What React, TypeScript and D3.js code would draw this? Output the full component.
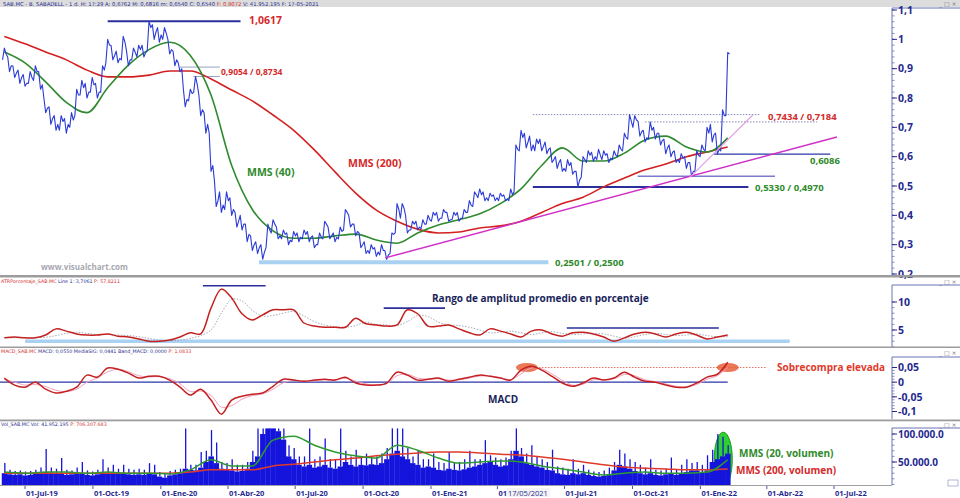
import React from 'react';
import * as d3 from 'd3';

// ---------------- DATA ----------------
const START = new Date(2019, 5, 3); // first weekly sample
const closes = [0.95,0.91,0.885,0.87,0.85,0.87,0.89,0.845,0.765,0.73,0.71,0.72,0.71,0.725,0.81,0.835,0.82,0.845,0.82,0.895,
0.98,0.945,0.935,0.99,0.93,0.955,0.965,0.955,1.04,1.025,1.015,1.02,0.965,0.93,0.9,0.795,0.815,0.845,0.76,0.71,
0.57,0.45,0.435,0.45,0.42,0.38,0.37,0.335,0.3,0.29,0.275,0.35,0.37,0.33,0.335,0.315,0.33,0.325,0.335,0.325,
0.3,0.325,0.37,0.33,0.325,0.345,0.41,0.37,0.345,0.3,0.28,0.285,0.275,0.28,0.265,0.335,0.42,0.425,0.35,0.37,
0.36,0.37,0.385,0.4,0.39,0.41,0.385,0.4,0.39,0.41,0.435,0.47,0.47,0.46,0.465,0.46,0.465,0.455,0.47,0.625,
0.665,0.65,0.64,0.645,0.635,0.625,0.59,0.58,0.56,0.57,0.55,0.52,0.59,0.605,0.6,0.605,0.605,0.595,0.605,0.625,
0.665,0.72,0.725,0.685,0.665,0.69,0.68,0.655,0.63,0.615,0.59,0.595,0.58,0.55,0.605,0.625,0.68,0.675,0.625,0.74,0.95];
const highs = [0.97,0.94,0.91,0.895,0.88,0.89,0.91,0.89,0.8,0.77,0.74,0.74,0.73,0.75,0.83,0.86,0.85,0.87,0.85,0.91,
1.0,0.98,0.96,1.01,0.96,0.97,0.98,0.98,1.0617,1.05,1.04,1.04,1.0,0.96,0.92,0.83,0.83,0.8734,0.81,0.75,
0.68,0.52,0.48,0.48,0.46,0.41,0.4,0.37,0.33,0.31,0.3,0.37,0.385,0.36,0.35,0.34,0.345,0.34,0.35,0.345,
0.33,0.34,0.38,0.36,0.34,0.36,0.42,0.4,0.37,0.34,0.31,0.3,0.29,0.3,0.28,0.34,0.44,0.44,0.4,0.38,
0.38,0.385,0.4,0.41,0.41,0.42,0.41,0.41,0.41,0.42,0.45,0.48,0.49,0.48,0.475,0.47,0.475,0.47,0.49,0.64,
0.69,0.68,0.67,0.66,0.66,0.65,0.63,0.6,0.59,0.59,0.58,0.55,0.6,0.62,0.615,0.625,0.62,0.61,0.62,0.64,
0.68,0.7434,0.74,0.72,0.69,0.7184,0.7,0.68,0.66,0.64,0.62,0.61,0.6,0.58,0.62,0.64,0.7,0.71,0.68,0.76,0.955];
const lows = [0.93,0.89,0.87,0.85,0.84,0.85,0.86,0.83,0.75,0.71,0.69,0.69,0.68,0.7,0.74,0.81,0.8,0.82,0.8,0.82,
0.92,0.93,0.92,0.93,0.91,0.93,0.94,0.94,0.96,1.0,0.99,1.0,0.95,0.91,0.89,0.77,0.79,0.82,0.74,0.68,
0.55,0.43,0.41,0.42,0.4,0.36,0.35,0.31,0.28,0.27,0.2501,0.29,0.34,0.32,0.32,0.3,0.31,0.31,0.32,0.31,
0.29,0.3,0.32,0.32,0.31,0.32,0.35,0.36,0.33,0.29,0.27,0.27,0.26,0.265,0.25,0.27,0.34,0.39,0.34,0.35,
0.35,0.355,0.37,0.38,0.38,0.39,0.38,0.385,0.38,0.39,0.41,0.43,0.46,0.45,0.45,0.45,0.45,0.45,0.45,0.48,
0.62,0.63,0.62,0.62,0.62,0.61,0.58,0.56,0.55,0.55,0.54,0.497,0.53,0.58,0.585,0.59,0.59,0.58,0.59,0.6,
0.62,0.66,0.7,0.67,0.65,0.66,0.66,0.64,0.61,0.6,0.58,0.58,0.56,0.533,0.55,0.6,0.62,0.65,0.6086,0.62,0.74];
// moving averages, one value every 4 weeks
const mms40 = [0.957,0.92,0.855,0.785,0.75,0.835,0.912,0.965,0.99,0.945,0.81,0.57,0.42,0.347,0.322,0.322,0.33,0.336,0.316,0.305,
0.34,0.367,0.385,0.405,0.44,0.49,0.57,0.63,0.585,0.585,0.612,0.657,0.67,0.633,0.616,0.664];
const mms200 = [1.01,0.985,0.957,0.93,0.895,0.872,0.872,0.878,0.892,0.892,0.865,0.827,0.79,0.742,0.69,0.623,0.548,0.476,0.418,0.38,
0.353,0.34,0.343,0.357,0.364,0.38,0.41,0.44,0.462,0.497,0.527,0.555,0.575,0.6,0.616,0.633];
// ATR % and MACD, one value every 2 weeks
const atrLine = [3.6,3.75,3.6,3.6,4.1,5.2,4.8,4.3,4.1,4.1,4.3,3.9,3.75,3.4,3.0,3.0,3.2,3.75,4.5,4.3,
8.9,12.3,10.7,7.9,6.8,7.7,8.6,8.6,8.6,6.25,5.7,5.5,5.5,5.5,7.1,6.1,5.9,5.7,5.9,8.6,
7.9,5.7,5.7,5.9,5.2,4.5,4.1,5.2,4.8,4.3,3.75,4.8,5.0,4.3,3.9,4.5,4.6,4.3,3.75,3.0,
3.6,4.3,4.6,4.3,3.75,4.3,4.6,4.1,3.4,3.75,4.1];
const atrSignal = [3.6,3.6,3.65,3.65,3.7,4.0,4.4,4.6,4.4,4.2,4.2,4.1,4.0,3.8,3.5,3.2,3.1,3.2,3.5,4.0,
5.0,8.0,10.5,10.2,8.5,7.5,7.6,8.0,8.3,7.5,6.5,5.9,5.6,5.5,5.8,6.4,6.0,5.9,5.8,6.5,
7.6,7.4,6.4,5.9,5.8,5.5,5.0,4.5,4.6,4.8,4.5,4.2,4.5,4.7,4.4,4.2,4.3,4.4,4.3,3.9,
3.5,3.8,4.2,4.4,4.2,4.0,4.1,4.3,4.0,3.8,3.8];
const macdLine = [0.014,-0.01,-0.017,0,-0.024,-0.037,-0.031,-0.017,0.024,0.017,0.048,0.044,0.031,0.014,0.02,0.02,0.007,-0.017,-0.044,-0.024,
-0.061,-0.109,-0.061,-0.048,-0.041,-0.037,-0.014,0.01,0.007,0.003,0.007,0.01,0.007,0.017,-0.003,-0.01,-0.01,-0.003,0.034,0.024,
0.007,0.01,0.014,0.003,0.01,0.017,0.024,0.02,0.014,0.007,0.041,0.054,0.041,0.02,-0.003,-0.014,-0.003,0.014,0.007,0.014,
0.034,0.017,0.003,0,-0.01,-0.017,-0.017,-0.003,0.017,0.027,0.068];
const macdSignal = [0.01,0.0,-0.01,-0.008,-0.015,-0.028,-0.032,-0.024,0.0,0.014,0.035,0.044,0.036,0.022,0.018,0.019,0.012,-0.005,-0.032,-0.03,
-0.045,-0.085,-0.08,-0.058,-0.046,-0.04,-0.024,-0.002,0.006,0.004,0.005,0.008,0.008,0.013,0.004,-0.006,-0.01,-0.005,0.022,0.027,
0.014,0.01,0.012,0.007,0.008,0.014,0.021,0.021,0.016,0.009,0.028,0.048,0.046,0.028,0.006,-0.01,-0.007,0.008,0.009,0.012,
0.026,0.022,0.008,0.002,-0.006,-0.014,-0.016,-0.008,0.01,0.022,0.05];
// weekly volume (thousands): typical level and weekly peak day
const volBase = [30000,28000,27000,28000,26000,27000,29000,30000,32000,31000,30000,30000,27000,28000,29000,30000,27000,26000,28000,31000,
30000,29000,29000,30000,28000,27000,28000,27000,30000,28000,24000,22000,26000,28000,30000,38000,36000,35000,40000,50000,
60000,48000,38000,36000,35000,33000,34000,38000,50000,60000,100000,110000,110000,105000,90000,60000,55000,45000,42000,45000,
40000,42000,45000,40000,38000,42000,50000,45000,42000,45000,44000,46000,45000,48000,55000,65000,70000,60000,55000,48000,
45000,40000,42000,40000,36000,35000,38000,36000,35000,37000,40000,42000,45000,48000,50000,45000,42000,44000,55000,70000,
60000,48000,45000,42000,40000,36000,35000,30000,28000,27000,30000,28000,30000,27000,25000,24000,25000,28000,35000,45000,
42000,38000,34000,30000,28000,30000,27000,26000,28000,30000,27000,30000,32000,35000,35000,32000,35000,50000,55000,60000,65000];
const volPeak = [48000,36000,34000,35000,33000,34000,36000,40000,73000,40000,38000,57000,36000,35000,40000,50000,35000,33000,36000,55000,
40000,45000,38000,45000,38000,36000,38000,36000,48000,45000,32000,30000,34000,36000,38000,110000,45000,45000,68000,70000,
107000,85000,50000,48000,55000,45000,45000,50000,70000,110000,110000,110000,110000,110000,110000,80000,75000,60000,60000,110000,
55000,60000,92000,55000,55000,110000,70000,60000,72000,60000,65000,60000,60000,65000,75000,110000,110000,110000,75000,60000,
70000,55000,55000,65000,50000,48000,68000,48000,50000,55000,70000,55000,55000,89000,62000,58000,55000,58000,70000,110000,
75000,65000,80000,60000,55000,50000,72000,42000,40000,38000,55000,38000,45000,36000,33000,32000,35000,40000,50000,72000,
65000,55000,50000,45000,40000,55000,36000,35000,38000,58000,36000,45000,55000,48000,50000,45000,62000,72000,100000,95000,80000];
const volMA20 = [32000,30000,32000,32000,30000,32000,30000,30000,28500,36000,54000,43000,43000,89000,96000,80000,68000,61000,57000,80000,
71000,57000,48000,50000,52000,50000,43000,37500,32000,27000,30000,32000,30000,30000,32000,54000];
const volMA200 = [30000,30000,30000,30000,30000,30000,30000,30000,30000,32000,36000,36000,36000,43000,46000,50000,54000,57000,61000,64000,
66000,68000,68000,66000,64000,62500,59000,55000,50000,45000,41000,39000,37500,36000,36000,37500];

const priceTicks = [1.1, 1, 0.9, 0.8, 0.7, 0.6, 0.5, 0.4, 0.3, 0.2];
const priceTickLabels = ['1,1', '1', '0,9', '0,8', '0,7', '0,6', '0,5', '0,4', '0,3', '0,2'];
const atrTicks = [10, 5];
const atrTickLabels = ['10', '5'];
const macdTicks = [0.05, 0, -0.05, -0.1];
const macdTickLabels = ['0,05', '0', '-0,05', '-0,1'];
const volTicks = [100000, 50000];
const volTickLabels = ['100.000.0', '50.000.0'];
const dateTicks = ['2019-07-01','2019-10-01','2020-01-01','2020-04-01','2020-07-01','2020-10-01','2021-01-01','2021-04-01','2021-07-01','2021-10-01','2022-01-01','2022-04-01','2022-07-01'];
const dateTickLabels = ['01-Jul-19','01-Oct-19','01-Ene-20','01-Abr-20','01-Jul-20','01-Oct-20','01-Ene-21','01','01-Jul-21','01-Oct-21','01-Ene-22','01-Abr-22','01-Jul-22'];
const cursorDate = '17/05/2021';

// ---------------- LAYOUT ----------------
const W = 960, H = 498, AX = 892;
const FONT = "'Open Sans', 'DejaVu Sans', sans-serif";
const NAVY = '#1f2a8f';
const RED = '#d42a2a';
const GREEN = '#2e8a2a';
const BLUE = '#2b3bd6';

const d = (s: string) => { const [y, m, dd] = s.split('-').map(Number); return new Date(y, m - 1, dd); };
const weekDate = (i: number) => d3.timeDay.offset(START, 7 * i);

const x = d3.scaleTime().domain([d('2019-07-01'), d('2022-07-01')]).range([25, 834]);
const yP = d3.scaleLinear().domain([0.2, 1.1]).range([274, 10]);
const yA = d3.scaleLinear().domain([0, 10]).range([358, 302]);
const yM = d3.scaleLinear().domain([-0.1, 0.05]).range([411.5, 367.5]);
const yV = d3.scaleLinear().domain([0, 100000]).range([490, 434]);

function RightAxis({ top, bottom, scale, ticks, labels, minor, size }: any) {
  const [lo, hi] = scale.domain();
  const minors: number[] = [];
  for (let v = lo; v <= hi + 1e-9; v += minor) minors.push(v);
  return (
    <g>
      <line x1={AX} x2={W} y1={top} y2={top} stroke="#6a74b8" strokeWidth={1} />
      <line x1={AX} x2={AX} y1={top} y2={bottom} stroke="#6a74b8" strokeWidth={1} />
      {minors.map((v, i) => {
        const yy = scale(v);
        if (yy < top || yy > bottom) return null;
        return <line key={'m' + i} x1={AX} x2={AX + 2.5} y1={yy} y2={yy} stroke="#6a74b8" strokeWidth={0.8} />;
      })}
      {ticks.map((v: number, i: number) => (
        <g key={i}>
          <line x1={AX} x2={AX + 5} y1={scale(v)} y2={scale(v)} stroke={NAVY} strokeWidth={1} />
          <text x={AX + 6} y={scale(v)} dy="0.36em" fontSize={size} fontWeight={700} fill={NAVY} fontFamily={FONT}>{labels[i]}</text>
        </g>
      ))}
    </g>
  );
}

const WinIcons = ({ y }: { y: number }) => (
  <text x={939} y={y} fontSize={6} fill="#777" fontFamily="DejaVu Sans, sans-serif">_ □ ×</text>
);

export default function App() {
  // price zigzag path from weekly high/low/close values
  const pts: [number, number][] = [];
  closes.forEach((c, i) => {
    const xx = x(weekDate(i));
    const prev = i > 0 ? closes[i - 1] : c;
    const up = c >= prev;
    const a = up ? lows[i] : highs[i];
    const b = up ? highs[i] : lows[i];
    pts.push([xx - 1.8, yP(a)], [xx, yP(b)], [xx + 1.8, yP(c)]);
  });
  const pricePath = d3.line()(pts) as string;

  const maLine = (arr: number[], step: number, ys: any) =>
    d3.line<number>().x((_, k) => x(weekDate(step * k))).y(v => ys(v)).curve(d3.curveMonotoneX)(arr) as string;
  const rawLine = (arr: number[], step: number, ys: any) =>
    d3.line<number>().x((_, k) => x(weekDate(step * k))).y(v => ys(v)).curve(d3.curveCatmullRom)(arr) as string;

  const stepW = x(weekDate(1)) - x(weekDate(0));

  const txt = (props: any, s: string) => <text fontFamily={FONT} fontWeight={700} {...props}>{s}</text>;

  return (
    <svg width={W} height={H} viewBox={`0 0 ${W} ${H}`} style={{ position: 'absolute', left: 0, top: 0, background: '#fff' }}>
      <defs>
        <clipPath id="cMain"><rect x={0} y={8} width={AX} height={267} /></clipPath>
        <clipPath id="cVol"><rect x={0} y={426} width={AX} height={59} /></clipPath>
      </defs>
      <rect x={0} y={0} width={W} height={H} fill="#fff" />

      {/* header */}
      <rect x={0} y={0} width={W} height={7} fill="#dcdcdc" />
      <text x={3} y={5.6} fontSize={5.3} fontFamily="DejaVu Sans, sans-serif" fill={NAVY}>
        SAB.MC - B. SABADELL - 1 d. H: 17:29 A: 0,6762 M: 0,6816 m: 0,6540 C: 0,6540 <tspan fill={RED}>F: 0,9072</tspan> V: 41.952.195 F: 17-05-2021
      </text>
      <WinIcons y={6} />

      {/* ---------- MAIN PANEL ---------- */}
      <g clipPath="url(#cMain)">
        <line x1={x(d('2020-05-13'))} x2={x(d('2021-06-09'))} y1={yP(0.2501) + 3} y2={yP(0.2501) + 3} stroke="#a9d2f2" strokeWidth={4} />
        <line x1={x(d('2019-10-21'))} x2={x(d('2020-04-18'))} y1={yP(1.0617)} y2={yP(1.0617)} stroke="#2a2f9a" strokeWidth={2} />
        <line x1={x(d('2020-01-27'))} x2={x(d('2020-03-21'))} y1={yP(0.9054)} y2={yP(0.9054)} stroke="#9aa0c8" strokeWidth={1} />
        <line x1={x(d('2020-02-14'))} x2={x(d('2020-03-21'))} y1={yP(0.8734)} y2={yP(0.8734)} stroke="#9aa0c8" strokeWidth={1} />
        <line x1={x(d('2021-05-19'))} x2={x(d('2022-03-07'))} y1={yP(0.497)} y2={yP(0.497)} stroke="#2a2f9a" strokeWidth={2} />
        <line x1={x(d('2021-10-08'))} x2={x(d('2022-04-12'))} y1={yP(0.533)} y2={yP(0.533)} stroke="#7a7ad0" strokeWidth={1.6} />
        <line x1={x(d('2022-01-19'))} x2={x(d('2022-06-26'))} y1={yP(0.6086)} y2={yP(0.6086)} stroke="#2a3aa8" strokeWidth={1.3} />
        <line x1={x(d('2021-05-19'))} x2={x(d('2022-03-23'))} y1={yP(0.7434)} y2={yP(0.7434)} stroke="#8088b8" strokeWidth={1} strokeDasharray="1.5,1.5" />
        <line x1={x(d('2021-10-18'))} x2={x(d('2022-06-08'))} y1={yP(0.7184)} y2={yP(0.7184)} stroke="#8088b8" strokeWidth={1} strokeDasharray="1.5,1.5" />

        <path d={maLine(mms200, 4, yP)} fill="none" stroke="#d42020" strokeWidth={1.6} />
        <path d={maLine(mms40, 4, yP)} fill="none" stroke="#2f8a2f" strokeWidth={1.6} />
        <path d={pricePath} fill="none" stroke={BLUE} strokeWidth={1.1} strokeLinejoin="round" />

        <line x1={x(d('2020-10-31'))} y1={yP(0.255)} x2={x(d('2022-07-05'))} y2={yP(0.667)} stroke="#d030c8" strokeWidth={1.5} />
        <line x1={x(d('2021-12-18'))} y1={yP(0.53)} x2={x(d('2022-03-13'))} y2={yP(0.742)} stroke="#e0a0e0" strokeWidth={1.1} />
      </g>

      {txt({ x: 249, y: 24, fontSize: 10.5, fill: RED }, '1,0617')}
      {txt({ x: 221, y: 75, fontSize: 8.5, fill: RED }, '0,9054 / 0,8734')}
      {txt({ x: 247, y: 176, fontSize: 10.5, fill: GREEN }, 'MMS (40)')}
      {txt({ x: 348, y: 167, fontSize: 10.5, fill: RED }, 'MMS (200)')}
      {txt({ x: 41, y: 270, fontSize: 8, fill: '#a8a8b0' }, 'www.visualchart.com')}
      {txt({ x: 555, y: 266, fontSize: 9.5, fill: GREEN }, '0,2501 / 0,2500')}
      {txt({ x: 755, y: 191, fontSize: 9.5, fill: GREEN }, '0,5330 / 0,4970')}
      {txt({ x: 810, y: 164, fontSize: 9.5, fill: GREEN }, '0,6086')}
      {txt({ x: 768, y: 120, fontSize: 9.5, fill: RED }, '0,7434 / 0,7184')}

      <RightAxis top={8} bottom={275} scale={yP} ticks={priceTicks} labels={priceTickLabels} minor={0.02} size={10.5} />

      <rect x={0} y={275} width={W} height={2.5} fill="#9c9c9c" />

      {/* ---------- ATR PANEL ---------- */}
      <text x={1} y={282.5} fontSize={4.8} fontFamily="DejaVu Sans, sans-serif" fill={RED}>
        ATRPorcentaje_SAB.MC <tspan fill={NAVY}>Line 1: 3,7061</tspan> P: 57,8211
      </text>
      <WinIcons y={284} />
      <line x1={x(d('2019-07-01'))} x2={x(d('2022-05-02'))} y1={yA(3.0)} y2={yA(3.0)} stroke="#a9d2f2" strokeWidth={3.5} />
      <line x1={x(d('2020-02-27'))} x2={x(d('2020-05-22'))} y1={yA(12.9)} y2={yA(12.9)} stroke="#2a2f9a" strokeWidth={1.6} />
      <line x1={x(d('2020-10-29'))} x2={x(d('2021-01-20'))} y1={yA(8.9)} y2={yA(8.9)} stroke="#2a2f9a" strokeWidth={1.6} />
      <line x1={x(d('2021-07-04'))} x2={x(d('2022-01-26'))} y1={yA(5.36)} y2={yA(5.36)} stroke="#2a2f9a" strokeWidth={1.6} />
      <path d={rawLine(atrSignal, 2, yA)} fill="none" stroke="#9aa0b0" strokeWidth={0.9} strokeDasharray="1.5,1.5" />
      <path d={rawLine(atrLine, 2, yA)} fill="none" stroke="#c42020" strokeWidth={1.5} />
      {txt({ x: 432, y: 302, fontSize: 10, fill: '#1a1f5a' }, 'Rango de amplitud promedio en porcentaje')}
      <RightAxis top={285} bottom={347} scale={yA} ticks={atrTicks} labels={atrTickLabels} minor={1} size={10.5} />

      <rect x={0} y={346.5} width={W} height={1.5} fill="#9c9c9c" />

      {/* ---------- MACD PANEL ---------- */}
      <text x={1} y={353} fontSize={4.8} fontFamily="DejaVu Sans, sans-serif" fill={NAVY}>
        <tspan fill={RED}>MACD_SAB.MC</tspan> MACD: 0,0550 MediaSIG: 0,0441 Band_MACD: 0,0000 <tspan fill={RED}>P: 1,0833</tspan>
      </text>
      <WinIcons y={355} />
      <line x1={x(d('2019-05-28'))} x2={x(d('2022-02-07'))} y1={yM(0)} y2={yM(0)} stroke="#2a35a8" strokeWidth={1.2} />
      <line x1={x(d('2021-05-11'))} x2={x(d('2022-04-01'))} y1={yM(0.05)} y2={yM(0.05)} stroke="#e07060" strokeWidth={1} strokeDasharray="1.5,1.5" />
      <ellipse cx={x(d('2021-05-11'))} cy={yM(0.05)} rx={11} ry={4.5} fill="#e8603a" opacity={0.85} />
      <ellipse cx={x(d('2022-02-07'))} cy={yM(0.05)} rx={11} ry={4.5} fill="#e8603a" opacity={0.85} />
      <path d={rawLine(macdSignal, 2, yM)} fill="none" stroke="#f0a0c0" strokeWidth={1} />
      <path d={rawLine(macdLine, 2, yM)} fill="none" stroke="#c42020" strokeWidth={1.5} />
      {txt({ x: 777, y: 371, fontSize: 10, fill: '#e03a2a' }, 'Sobrecompra elevada')}
      {txt({ x: 488, y: 403, fontSize: 10, fill: '#1a1f5a' }, 'MACD')}
      <RightAxis top={357} bottom={419} scale={yM} ticks={macdTicks} labels={macdTickLabels} minor={0.01} size={10.5} />

      <rect x={0} y={419.5} width={W} height={1.8} fill="#9c9c9c" />

      {/* ---------- VOLUME PANEL ---------- */}
      <text x={1} y={426} fontSize={4.8} fontFamily="DejaVu Sans, sans-serif" fill={NAVY}>
        Vol_SAB.MC Vol: 41.952.195 <tspan fill={RED}>P: 706.307.683</tspan>
      </text>
      <WinIcons y={427} />
      <g clipPath="url(#cVol)">
        <ellipse cx={x(d('2022-02-01'))} cy={yV(55000)} rx={9} ry={27} fill="#2fd02f" stroke="#1a9a1a" strokeWidth={1} />
        {volBase.map((v, i) => (
          <rect key={'b' + i} x={x(weekDate(i)) - stepW / 2} width={stepW + 0.3} y={yV(v)} height={485 - yV(v)} fill="#1414dc" />
        ))}
        {volPeak.map((v, i) => (
          <line key={'p' + i} x1={x(weekDate(i)) + 0.5} x2={x(weekDate(i)) + 0.5} y1={yV(v)} y2={yV(volBase[i])} stroke="#1414dc" strokeWidth={1.3} />
        ))}
        <path d={maLine(volMA200, 4, yV)} fill="none" stroke="#e03a2a" strokeWidth={1.5} />
        <path d={maLine(volMA20, 4, yV)} fill="none" stroke="#2f9a2f" strokeWidth={1.5} />
      </g>
      <line x1={0} x2={AX} y1={485.5} y2={485.5} stroke="#888" strokeWidth={0.8} />
      {txt({ x: 739, y: 457, fontSize: 10, fill: GREEN }, 'MMS (20, volumen)')}
      {txt({ x: 736, y: 474, fontSize: 10, fill: RED }, 'MMS (200, volumen)')}
      <RightAxis top={428} bottom={485} scale={yV} ticks={volTicks} labels={volTickLabels} minor={10000} size={10} />
      <rect x={948} y={480} width={10} height={6} fill="#fff" stroke="#8088c0" strokeWidth={0.6} />

      {/* date axis */}
      {dateTicks.map((s, i) => (
        <g key={s}>
          <line x1={x(d(s))} x2={x(d(s))} y1={486} y2={489} stroke={NAVY} strokeWidth={0.8} />
          <text x={x(d(s)) + 1} y={496} fontSize={7.5} fontWeight={700} fill={NAVY} fontFamily={FONT}>{dateTickLabels[i]}</text>
        </g>
      ))}
      <rect x={507} y={488} width={43} height={9} fill="#f4f4f4" />
      <text x={508} y={495.5} fontSize={7.5} fill={NAVY} fontFamily={FONT}>{cursorDate}</text>
    </svg>
  );
}
